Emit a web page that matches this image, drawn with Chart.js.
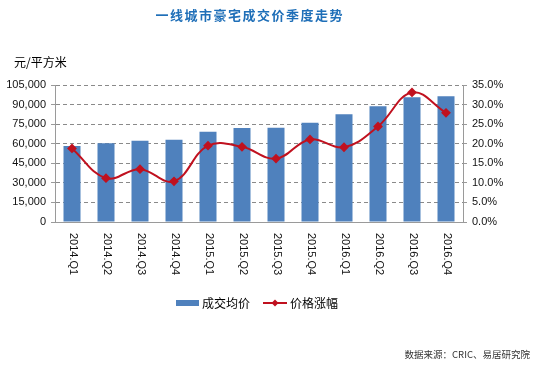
<!DOCTYPE html>
<html>
<head>
<meta charset="utf-8">
<script src="https://cdn.jsdelivr.net/npm/chart.js@4"></script>
<style>
  html, body { margin: 0; padding: 0; background: #fff; }
  #wrap { width: 534px; height: 369px; position: relative; }
</style>
</head>
<body>
<div id="wrap"><canvas id="priceChart"></canvas></div>
<script>
const quarters = ['2014.Q1', '2014.Q2', '2014.Q3', '2014.Q4', '2015.Q1', '2015.Q2',
                  '2015.Q3', '2015.Q4', '2016.Q1', '2016.Q2', '2016.Q3', '2016.Q4'];
const avgPrice = [58300, 60300, 62300, 63100, 69200, 72000, 72300, 76100, 82500, 88700, 95600, 96300];
const priceGrowth = [18.8, 11.2, 13.5, 10.4, 19.5, 19.2, 16.2, 21.1, 19.1, 24.4, 33.1, 27.9];

const titleText = '一线城市豪宅成交价季度走势';
const unitText = '元/平方米';
const sourceText = '数据来源：CRIC、易居研究院';
const legendNames = ['成交均价', '价格涨幅'];

const barColor = '#4f81bd';
const lineColor = '#c0111f';
const cjk = '"Noto Sans CJK SC", sans-serif';

// texts, x labels and legend drawn by hand
const extras = {
    id: 'extras',
    afterDraw(chart) {
        const ctx = chart.ctx;
        const x = chart.scales.x;
        ctx.save();

        // title, wide letter spacing
        ctx.fillStyle = '#1f6fb8';
        ctx.font = 'bold 13px ' + cjk;
        ctx.textAlign = 'center';
        ctx.textBaseline = 'middle';
        const step = 14.5;
        const start = 249 - step * (titleText.length - 1) / 2;
        for (let i = 0; i < titleText.length; i++) {
            ctx.fillText(titleText[i], start + i * step, 15);
        }

        // unit
        ctx.fillStyle = '#000';
        ctx.font = '12px ' + cjk;
        ctx.textAlign = 'left';
        ctx.fillText(unitText, 14, 62);

        // x labels, read top to bottom
        ctx.font = '11px "Liberation Sans", sans-serif';
        ctx.fillStyle = '#111';
        quarters.forEach((q, i) => {
            const px = x.getPixelForValue(i);
            ctx.save();
            ctx.translate(px + 1, 233);
            ctx.rotate(Math.PI / 2);
            ctx.textAlign = 'left';
            ctx.textBaseline = 'middle';
            ctx.fillText(q, 0, 0);
            ctx.restore();
        });

        // legend
        ctx.fillStyle = barColor;
        ctx.fillRect(176, 300, 23, 6);
        ctx.fillStyle = '#000';
        ctx.font = '12px ' + cjk;
        ctx.textBaseline = 'middle';
        ctx.fillText(legendNames[0], 202, 303);
        ctx.strokeStyle = lineColor;
        ctx.lineWidth = 2;
        ctx.beginPath();
        ctx.moveTo(263, 303);
        ctx.lineTo(287, 303);
        ctx.stroke();
        ctx.fillStyle = lineColor;
        ctx.beginPath();
        ctx.moveTo(275, 299.5);
        ctx.lineTo(278.5, 303);
        ctx.lineTo(275, 306.5);
        ctx.lineTo(271.5, 303);
        ctx.closePath();
        ctx.fill();
        ctx.fillStyle = '#000';
        ctx.fillText(legendNames[1], 290, 303);

        // source
        ctx.font = '9.5px ' + cjk;
        ctx.fillStyle = '#333';
        ctx.textAlign = 'right';
        ctx.fillText(sourceText, 530, 354);

        ctx.restore();
    }
};

const ctx = document.getElementById('priceChart').getContext('2d');
new Chart(ctx, {
    data: {
        labels: quarters,
        datasets: [
            {
                type: 'line',
                label: legendNames[1],
                data: priceGrowth,
                yAxisID: 'y1',
                borderColor: lineColor,
                backgroundColor: lineColor,
                borderWidth: 2,
                tension: 0.4,
                pointStyle: 'rectRot',
                pointRadius: 3.5,
                order: 0
            },
            {
                type: 'bar',
                label: legendNames[0],
                data: avgPrice,
                yAxisID: 'y',
                backgroundColor: barColor,
                categoryPercentage: 1,
                barPercentage: 0.5,
                order: 1
            }
        ]
    },
    options: {
        responsive: true,
        maintainAspectRatio: false,
        animation: false,
        layout: { padding: { top: 85, left: 0, right: 0, bottom: 0 } },
        plugins: {
            legend: { display: false },
            title: { display: false },
            tooltip: { enabled: false }
        },
        scales: {
            x: {
                grid: { display: false },
                border: { color: '#9a9a9a' },
                ticks: { display: false },
                afterFit(scale) { scale.height = 147; }
            },
            y: {
                position: 'left',
                min: 0,
                max: 105000,
                ticks: {
                    stepSize: 15000,
                    padding: 5,
                    color: '#111',
                    font: { family: '"Liberation Sans", sans-serif', size: 11 },
                    callback: v => v.toLocaleString('en-US')
                },
                grid: {
                    color: '#8a8a8a',
                    tickLength: 4,
                    tickColor: '#9a9a9a',
                    tickBorderDash: []
                },
                border: { color: '#9a9a9a', dash: [4, 3] },
                afterFit(scale) { scale.width = 55; }
            },
            y1: {
                position: 'right',
                min: 0,
                max: 35,
                ticks: {
                    stepSize: 5,
                    padding: 5,
                    color: '#111',
                    font: { family: '"Liberation Sans", sans-serif', size: 11 },
                    callback: v => v.toFixed(1) + '%'
                },
                grid: {
                    drawOnChartArea: false,
                    tickLength: 4,
                    tickColor: '#9a9a9a'
                },
                border: { color: '#9a9a9a' },
                afterFit(scale) { scale.width = 71; }
            }
        }
    },
    plugins: [extras]
});
</script>
</body>
</html>
